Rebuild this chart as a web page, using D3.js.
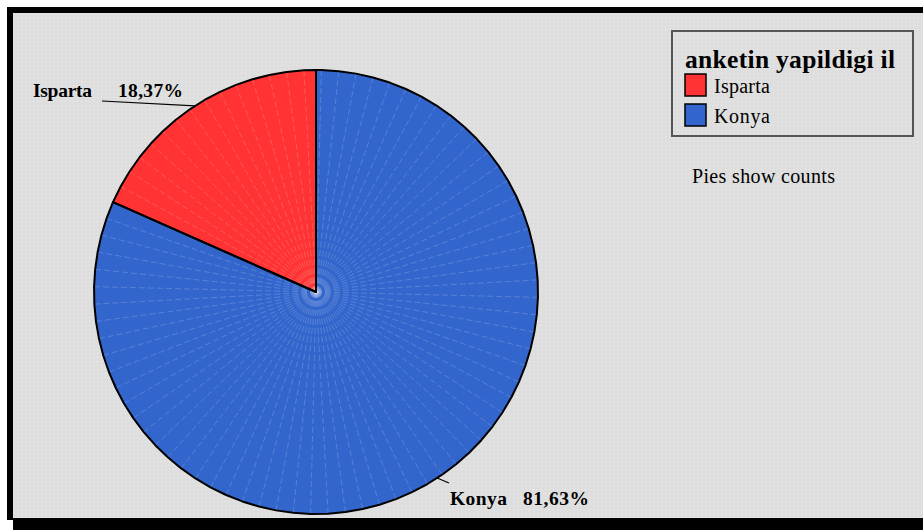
<!DOCTYPE html>
<html><head><meta charset="utf-8">
<script src="https://cdn.jsdelivr.net/npm/d3@7"></script>
<style>html,body{margin:0;padding:0;background:#fff;}svg{display:block;}</style>
</head><body>
<script>
const categories = ["Isparta", "Konya"];
const counts = [9, 40];
const percentLabels = ["18,37%", "81,63%"];
const colors = ["#ff3333", "#3366cc"];
const legendTitle = "anketin yapildigi il";
const footnote = "Pies show counts";

const W = 923, H = 530;
const svg = d3.select("body").append("svg").attr("width", W).attr("height", H);

const defs = svg.append("defs");
const pat = defs.append("pattern").attr("id", "dots").attr("width", 4).attr("height", 4).attr("patternUnits", "userSpaceOnUse");
pat.append("rect").attr("width", 4).attr("height", 4).attr("fill", "#dedede");
pat.append("rect").attr("x", 1).attr("y", 1).attr("width", 1).attr("height", 1).attr("fill", "#ededed");

// frame
svg.append("rect").attr("x", 7).attr("y", 7).attr("width", 916).attr("height", 513).attr("fill", "#000");
svg.append("rect").attr("x", 13).attr("y", 13).attr("width", 910).attr("height", 517).attr("fill", "#000");
svg.append("rect").attr("x", 13).attr("y", 13).attr("width", 910).attr("height", 505).attr("fill", "url(#dots)");

const cx = 316, cy = 292, R = 222;
const total = d3.sum(counts);
const offset = -2 * Math.PI * counts[0] / total;
const pie = d3.pie().sort(null).startAngle(offset).endAngle(offset + 2 * Math.PI);
const arcs = pie(counts);

const g = svg.append("g").attr("transform", `translate(${cx},${cy})`);
const step = 2 * Math.PI / 80;
const pt = a => [R * Math.sin(a), -R * Math.cos(a)];

function polyPts(d) {
  const pts = [[0, 0], pt(d.startAngle)];
  let k = Math.ceil((d.startAngle - offset) / step + 1e-9);
  for (let a = offset + k * step; a < d.endAngle - 1e-9; a += step) pts.push(pt(a));
  pts.push(pt(d.endAngle));
  return pts;
}
const line = d3.line();

arcs.forEach((d, i) => {
  const pts = polyPts(d);
  g.append("path").attr("d", line(pts) + "Z").attr("fill", colors[i]);
  pts.slice(2, -1).forEach(p => {
    g.append("line").attr("x1", 0).attr("y1", 0).attr("x2", p[0]).attr("y2", p[1])
      .attr("stroke", "#ffffff").attr("stroke-opacity", 0.22).attr("stroke-width", 0.8)
      .attr("stroke-dasharray", "6,3");
  });
});
arcs.forEach((d, i) => {
  const pts = polyPts(d);
  g.append("path").attr("d", line(pts) + "Z").attr("fill", "none")
    .attr("stroke", "#000").attr("stroke-width", 2).attr("stroke-linejoin", "round");
});

// labels
const labelFont = "'Liberation Serif','Times New Roman',serif";
const labelInfo = [
  { lx: 33, ly: 97, nameLen: 59, px: 118, pctLen: 65, lineEnd: [102, 101] },
  { lx: 450, ly: 505, nameLen: 57, px: 523, pctLen: 66, lineEnd: [449, 483] }
];
arcs.forEach((d, i) => {
  const mid = (d.startAngle + d.endAngle) / 2;
  const p = pt(mid);
  const info = labelInfo[i];
  svg.append("line").attr("x1", cx + p[0]).attr("y1", cy + p[1])
    .attr("x2", info.lineEnd[0]).attr("y2", info.lineEnd[1])
    .attr("stroke", "#000").attr("stroke-width", 1.2);
  svg.append("text").attr("x", info.lx).attr("y", info.ly).text(categories[i])
    .attr("font-family", labelFont).attr("font-weight", "bold").attr("font-size", 19.5)
    .attr("textLength", info.nameLen).attr("lengthAdjust", "spacing");
  svg.append("text").attr("x", info.px).attr("y", info.ly).text(percentLabels[i])
    .attr("font-family", labelFont).attr("font-weight", "bold").attr("font-size", 19.5)
    .attr("textLength", info.pctLen).attr("lengthAdjust", "spacing");
});

// legend
const lg = svg.append("g");
lg.append("rect").attr("x", 672).attr("y", 31).attr("width", 241).attr("height", 105)
  .attr("fill", "none").attr("stroke", "#555").attr("stroke-width", 2);
lg.append("text").attr("x", 685).attr("y", 68).text(legendTitle)
  .attr("font-family", labelFont).attr("font-weight", "bold").attr("font-size", 25.5)
  .attr("textLength", 210).attr("lengthAdjust", "spacing");
categories.forEach((c, i) => {
  const y = 74 + i * 30;
  lg.append("rect").attr("x", 685).attr("y", y).attr("width", 21).attr("height", 22)
    .attr("fill", colors[i]).attr("stroke", "#000").attr("stroke-width", 1.5);
  lg.append("text").attr("x", 714).attr("y", y + 19).text(c)
    .attr("font-family", labelFont).attr("font-size", 20)
    .attr("textLength", 56).attr("lengthAdjust", "spacing");
});
svg.append("text").attr("x", 692).attr("y", 183).text(footnote)
  .attr("font-family", labelFont).attr("font-size", 20)
  .attr("textLength", 143).attr("lengthAdjust", "spacing");
</script>
</body></html>
